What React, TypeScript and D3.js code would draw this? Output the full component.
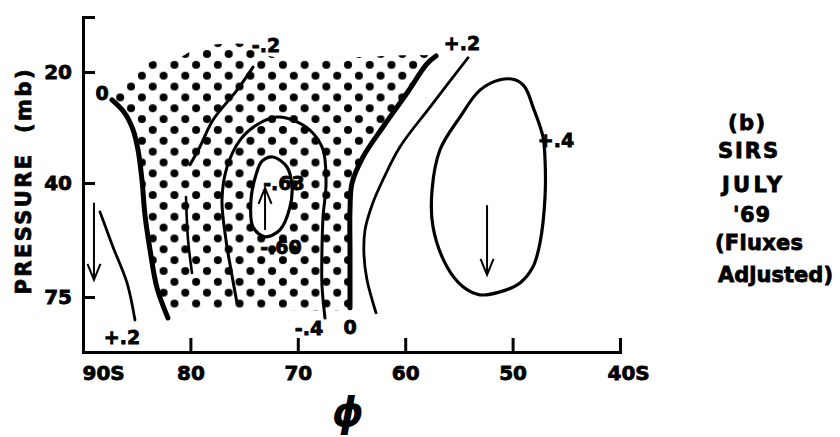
import React, { useEffect, useRef } from "react";
import * as d3 from "d3";

const FONT = "'DejaVu Sans', sans-serif";

// axes
const latTicks = [90, 80, 70, 60, 50, 40];
const latTickLabels = ["90S", "80", "70", "60", "50", "40S"];
const pressureTicks = [20, 40, 75];

// contour lines, points are [latitude (deg S), pressure (mb)]
const zeroPolar = [[87.3, 23.8], [86.18, 25.7], [85.34, 28.7], [84.88, 32.5], [84.51, 39.2], [84.23, 47.7], [83.76, 57.8], [83.11, 71.3], [82.09, 84.2]];
const zeroMid = [[57.13, 18.1], [57.97, 19.0], [59.83, 22.8], [62.07, 28.2], [63.93, 34.0], [64.95, 40], [65.14, 46.4], [65.14, 57.8], [65.14, 79.6]];
const plus2Polar = [[88.42, 46.9], [87.21, 56.9], [85.9, 69.4], [85.16, 85.1]];
const plus2Mid = [[54.15, 18.3], [57.69, 24.9], [60.48, 31.9], [62.07, 39.2], [63.09, 45.2], [63.74, 51.8], [63.84, 59.4], [63.56, 68.2], [62.72, 81.8]];
const minus2Upper = [[74.17, 19.4], [75.66, 22.4], [77.9, 27.0], [79.11, 31.9], [80.04, 35.7]];
const minus2Lower = [[80.41, 43.2], [80.22, 54.7], [79.85, 65.7]];
const minus4 = [[75.66, 77.5], [76.22, 64.6], [76.69, 54.7], [77.06, 43.9], [76.59, 36.2], [75.38, 30.6], [73.8, 27.8], [71.94, 26.5], [70.07, 27.3], [68.58, 29.3], [67.65, 32.5], [67.37, 40], [67.65, 48.2], [67.75, 57.8], [67.75, 70.2], [67.47, 84.2]];
const minus6 = [[72.31, 34.0], [71.01, 36.2], [70.54, 40.9], [70.73, 45.7], [71.66, 51.8], [73.05, 53.8], [74.17, 51.0], [74.36, 43.9], [73.89, 38.0], [73.33, 34.9]];
const plus4 = [[51.17, 21.0], [49.78, 21.0], [48.85, 22.0], [48.1, 24.9], [47.17, 30.0], [46.98, 34.6], [46.98, 43.2], [47.45, 55.7], [48.1, 63.5], [49.31, 69.4], [51.17, 72.9], [53.04, 74.1], [54.62, 70.9], [56.11, 63.5], [57.41, 51.0], [57.5, 41.6], [56.76, 32.5], [54.9, 26.5], [53.04, 22.4]];

// edges of the shaded (negative) area that are not contours
const stippleTop = [[86.55, 22.5], [85.16, 20.4], [83.76, 18.8], [80.97, 18.2], [79.11, 17.1], [73.99, 17.0], [73.05, 18.0], [58.62, 18.0]];
const stippleBottom = [[65.6, 80.5], [74.45, 80.5], [81.43, 81.5]];

// contour labels
const contourLabels = ["0", "-.2", "+.2", "+.2", "+.4", "-.63", "-.60", "-.4", "0"];
const contourLabelAt = [[88.23, 22.8], [72.96, 16.9], [54.71, 16.7], [86.37, 93.4], [45.96, 30.6], [71.29, 40], [71.56, 56.9], [68.96, 88.9], [65.14, 88.4]];

// vertical motion arrows [lat, from p, to p]
const arrows = [[88.98, 44.6, 68.2], [73.05, 51.8, 41.1], [52.38, 45.2, 66.4]];

const caption = ["(b)", "SIRS", "JULY", "'69", "(Fluxes", "Adjusted)"];
const captionX = [728, 718, 722, 733, 715, 718];
const captionY = [130, 158, 192, 222, 250, 282];
const captionLen = [37, 60, 60, 37, 88, 115];

const x = d3.scaleLinear().domain([90, 40]).range([83, 620]);
const y = d3.scaleLog().domain([14.19, 20, 40, 75, 101.5]).range([17, 72, 183, 297, 352]);

const lineGen = d3.line<number[]>().x(d => x(d[0])).y(d => y(d[1])).curve(d3.curveCatmullRom.alpha(0.5));
const loopGen = d3.line<number[]>().x(d => x(d[0])).y(d => y(d[1])).curve(d3.curveCatmullRomClosed.alpha(0.5));

export default function App() {
  const xAxisRef = useRef<SVGGElement>(null);
  const yAxisRef = useRef<SVGGElement>(null);

  useEffect(() => {
    const gx = d3.select(xAxisRef.current!);
    gx.call(
      d3.axisBottom(x)
        .tickValues(latTicks)
        .tickSize(-14)
        .tickSizeOuter(-14)
        .tickPadding(14)
        .tickFormat((d, i) => latTickLabels[i]) as any
    );
    gx.attr("font-family", FONT).attr("font-size", 20).attr("font-weight", "bold");
    gx.select(".domain").attr("stroke", "#000").attr("stroke-width", 3);
    gx.selectAll(".tick line").attr("stroke", "#000").attr("stroke-width", 3);
    gx.selectAll(".tick text").attr("fill", "#000").attr("stroke", "#000").attr("stroke-width", 0.8);
    gx.selectAll<SVGTextElement, number>(".tick text")
      .filter(d => d === 90)
      .attr("text-anchor", "start")
      .attr("x", -1);
    gx.selectAll<SVGTextElement, number>(".tick text")
      .filter(d => d === 40)
      .attr("text-anchor", "start")
      .attr("x", -13);

    const gy = d3.select(yAxisRef.current!);
    gy.call(
      d3.axisLeft(y)
        .tickValues(pressureTicks)
        .tickSize(-12)
        .tickSizeOuter(-12)
        .tickPadding(11)
        .tickFormat(d => String(d)) as any
    );
    gy.attr("font-family", FONT).attr("font-size", 20).attr("font-weight", "bold");
    gy.select(".domain").attr("stroke", "#000").attr("stroke-width", 3);
    gy.selectAll(".tick line").attr("stroke", "#000").attr("stroke-width", 3);
    gy.selectAll(".tick text").attr("fill", "#000").attr("stroke", "#000").attr("stroke-width", 0.8);
  }, []);

  const region = loopGen([...stippleTop, ...zeroMid, ...stippleBottom, ...zeroPolar.slice().reverse()]) + loopGen(minus6);

  const lines = [
    { pts: zeroPolar, w: 5 },
    { pts: zeroMid, w: 5 },
    { pts: plus2Polar, w: 2.8 },
    { pts: plus2Mid, w: 2.8 },
    { pts: minus2Upper, w: 3 },
    { pts: minus2Lower, w: 2.6 },
    { pts: minus4, w: 3 }
  ];
  const loops = [minus6, plus4];

  return (
    <svg width={840} height={437} style={{ position: "absolute", left: 0, top: 0, background: "#fff" }}>
      <defs>
        <pattern id="dots" patternUnits="userSpaceOnUse" x={207} y={54} width={21.7} height={21.7}>
          {[[0, 0], [21.7, 0], [0, 21.7], [21.7, 21.7], [10.85, 10.85]].map((c, i) => (
            <circle key={i} cx={c[0]} cy={c[1]} r={4} fill="#000" />
          ))}
        </pattern>
      </defs>

      <path d={region} fill="url(#dots)" fillRule="evenodd" />

      {lines.map((l, i) => (
        <path key={i} d={lineGen(l.pts) || ""} fill="none" stroke="#000" strokeWidth={l.w} strokeLinecap="round" />
      ))}
      {loops.map((l, i) => (
        <path key={i} d={loopGen(l) || ""} fill="none" stroke="#000" strokeWidth={3.2} />
      ))}

      {arrows.map((a, i) => {
        const ax = x(a[0]);
        const y0 = y(a[1]);
        const y1 = y(a[2]);
        const dir = y1 > y0 ? 1 : -1;
        return (
          <g key={i} stroke="#000" fill="none" strokeWidth={2}>
            <line x1={ax} y1={y0} x2={ax} y2={y1} />
            <polyline points={`${ax - 6.5},${y1 - dir * 16} ${ax},${y1} ${ax + 6.5},${y1 - dir * 16}`} />
          </g>
        );
      })}

      <g fontFamily={FONT} fontWeight="bold" fontSize={19} textAnchor="middle" fill="#000" stroke="#000" strokeWidth={0.8}>
        {contourLabels.map((t, i) => (
          <text key={i} x={x(contourLabelAt[i][0])} y={y(contourLabelAt[i][1]) + 7}>
            {t}
          </text>
        ))}
      </g>

      <g ref={xAxisRef} transform="translate(0,352)" />
      <g ref={yAxisRef} transform="translate(83,0)" />

      <text
        transform="translate(31,182) rotate(-90)"
        textAnchor="middle"
        fontFamily={FONT}
        fontWeight="bold"
        fontSize={21}
        textLength={225}
        stroke="#000"
        strokeWidth={0.8}
        style={{ whiteSpace: "pre" }}
      >
        {"PRESSURE  (mb)"}
      </text>

      <text x={348} y={426} textAnchor="middle" fontFamily={FONT} fontStyle="italic" fontWeight="bold" fontSize={40}>
        ϕ
      </text>

      <g fontFamily={FONT} fontWeight="bold" fontSize={21} fill="#000" stroke="#000" strokeWidth={0.8}>
        {caption.map((t, i) => (
          <text key={i} x={captionX[i]} y={captionY[i]} textLength={captionLen[i]}>
            {t}
          </text>
        ))}
      </g>
    </svg>
  );
}
